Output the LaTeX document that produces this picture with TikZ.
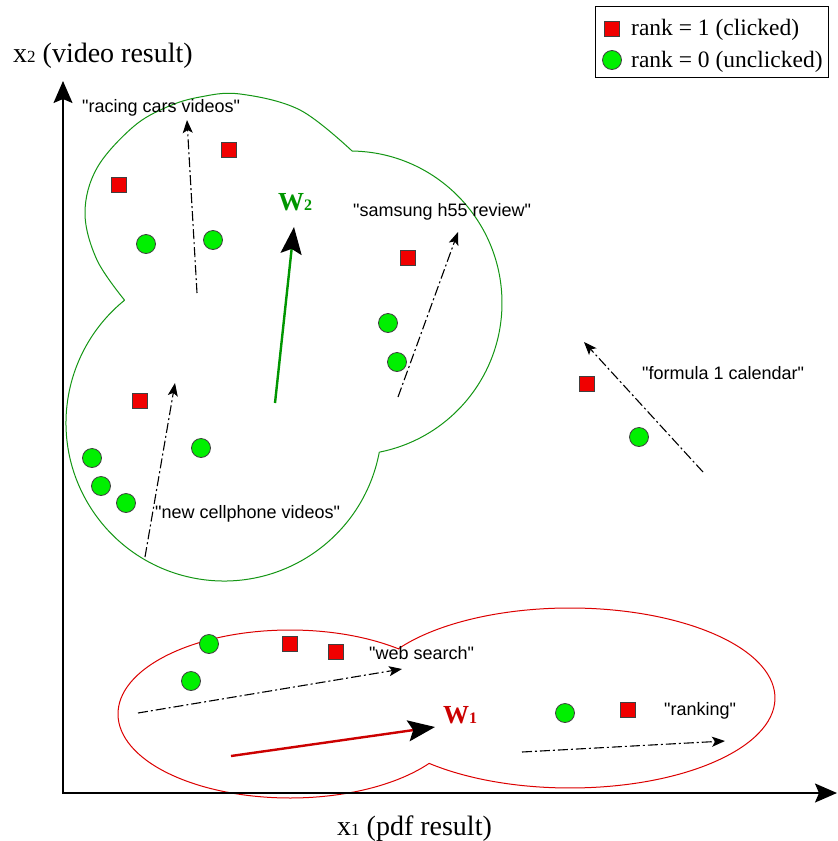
\documentclass[tikz,border=0pt]{standalone}
\usepackage{fontspec}
\setmainfont{Liberation Serif}
\newfontfamily\labelsans{Liberation Sans}
\usetikzlibrary{arrows.meta}

\definecolor{clustergreen}{RGB}{20,150,20}
\definecolor{clusterred}{RGB}{220,0,0}
\definecolor{wred}{RGB}{204,0,0}
\definecolor{wgreen}{RGB}{0,150,0}
\definecolor{dotgreen}{RGB}{0,240,0}
\definecolor{dotred}{RGB}{240,0,0}

\begin{document}
\begin{tikzpicture}[x=1pt,y=-1pt,
  axisline/.style={line width=1.6pt, -{Stealth[length=22pt,width=19pt,inset=4pt]}},
  trend/.style={line width=1.1pt, dash pattern=on 10pt off 3pt on 2pt off 3pt,
                -{Stealth[length=13pt,width=10pt,inset=3pt]}},
  weight/.style={line width=2.4pt, -{Stealth[length=27pt,width=21pt,inset=5pt,color=black,fill=black]}},
  clicked/.style={rectangle, draw=black!75, line width=0.8pt, fill=dotred,
                  minimum size=15pt, inner sep=0pt},
  unclicked/.style={circle, draw=black!75, line width=0.8pt, fill=dotgreen,
                    minimum size=19pt, inner sep=0pt},
  query/.style={font=\labelsans\fontsize{18}{18}\selectfont, anchor=base west, inner sep=0pt},
  axislabel/.style={anchor=base west, inner sep=0pt, font=\fontsize{28}{28}\selectfont},
  legendtext/.style={anchor=base west, inner sep=0pt, font=\fontsize{23.5}{23.5}\selectfont},
  wlabel/.style={anchor=base west, inner sep=0pt, font=\bfseries\fontsize{26}{26}\selectfont},
  cluster/.style={line width=1pt},
]
\useasboundingbox (0,0) rectangle (838,841);
\fill[white] (0,0) rectangle (838,841);

% ---- cluster outlines ----
% green cloud: free-form upper-left lobe, right lobe and lower lobe
\draw[cluster, clustergreen] plot[smooth, tension=0.6] coordinates
  {(124.6,300.2) (97,260) (85,213) (97,168) (133,127) (167,107) (200,97) (240,94) (300,110) (352.1,151)};
\draw[cluster, clustergreen] ([shift={(350,303)}]-89.2:152) arc[start angle=-89.2, end angle=78.8, radius=152];
\draw[cluster, clustergreen] ([shift={(224,423)}]10.6:158) arc[start angle=10.6, end angle=231, radius=158];

% red cluster: union of two ellipses
\draw[cluster, clusterred] ([shift={(290,714)}]-50.9:172 and 84)
  arc[start angle=-50.9, end angle=-324, x radius=172, y radius=84]
  arc[start angle=133.4, end angle=-146.8, x radius=205, y radius=90] -- cycle;

% ---- axes ----
\coordinate (origin) at (63,793);
\coordinate (ytip) at (63,81);
\coordinate (xtip) at (837,793);
\draw[axisline] (origin) -- (ytip);
\draw[axisline] ([xshift=-1pt]origin) -- (xtip);
\node[axislabel] (ylabel) at (13,62)
  {x{\fontsize{17}{17}\selectfont 2} (video result)};
\node[axislabel] (xlabel) at (337,835)
  {x{\fontsize{17}{17}\selectfont 1} (pdf result)};

% ---- legend ----
\draw[line width=0.8pt] (595,6) rectangle (828,77);
\node[clicked] (legc) at (611.5,28.5) {};
\node[unclicked] (legu) at (612,60) {};
\node[legendtext] (legct) at (631,35) {rank = 1 (clicked)};
\node[legendtext] (legut) at (631,67) {rank = 0 (unclicked)};

% ---- per-query directions ----
\coordinate (rcT) at (197,293);  \coordinate (rcH) at (187,120);
\coordinate (shT) at (398,397);  \coordinate (shH) at (458,232);
\coordinate (ncT) at (145,557);  \coordinate (ncH) at (175,383);
\coordinate (f1T) at (703,472);  \coordinate (f1H) at (584,342);
\coordinate (wsT) at (138,713);  \coordinate (wsH) at (402,669);
\coordinate (rkT) at (522,752);  \coordinate (rkH) at (725,741);
\draw[trend] (rcT) -- (rcH);
\draw[trend] (shT) -- (shH);
\draw[trend] (ncT) -- (ncH);
\draw[trend] (f1T) -- (f1H);
\draw[trend] (wsT) -- (wsH);
\draw[trend] (rkT) -- (rkH);

\node[query] (rcL) at (82,112) {"racing cars videos"};
\node[query] (shL) at (353,216) {"samsung h55 review"};
\node[query] (ncL) at (155,518) {"new cellphone videos"};
\node[query] (f1L) at (642,379) {"formula 1 calendar"};
\node[query] (wsL) at (369,659) {"web search"};
\node[query] (rkL) at (664,715) {"ranking"};

% ---- cluster weight vectors ----
\coordinate (w2T) at (275,403); \coordinate (w2H) at (294,227);
\coordinate (w1T) at (231,756); \coordinate (w1H) at (435,727);
\draw[weight, wgreen] (w2T) -- (w2H);
\draw[weight, wred] (w1T) -- (w1H);
\node[wlabel, text=wgreen] (w2L) at (278,210) {W{\fontsize{16}{16}\selectfont 2}};
\node[wlabel, text=wred] (w1L) at (443,723) {W{\fontsize{16}{16}\selectfont 1}};

% ---- results: clicked ----
\node[clicked] (c1) at (119,185) {};
\node[clicked] (c2) at (229,150) {};
\node[clicked] (c3) at (408,258) {};
\node[clicked] (c4) at (140,401) {};
\node[clicked] (c5) at (587,384) {};
\node[clicked] (c6) at (290,644) {};
\node[clicked] (c7) at (336,652) {};
\node[clicked] (c8) at (628,710) {};

% ---- results: unclicked ----
\node[unclicked] (u1) at (146,244) {};
\node[unclicked] (u2) at (213,240) {};
\node[unclicked] (u3) at (388,323) {};
\node[unclicked] (u4) at (397,362) {};
\node[unclicked] (u5) at (92,458) {};
\node[unclicked] (u6) at (101,486) {};
\node[unclicked] (u7) at (126,503) {};
\node[unclicked] (u8) at (201,448) {};
\node[unclicked] (u9) at (639,437) {};
\node[unclicked] (u10) at (209,644) {};
\node[unclicked] (u11) at (191,681) {};
\node[unclicked] (u12) at (565,713) {};
\end{tikzpicture}
\end{document}
